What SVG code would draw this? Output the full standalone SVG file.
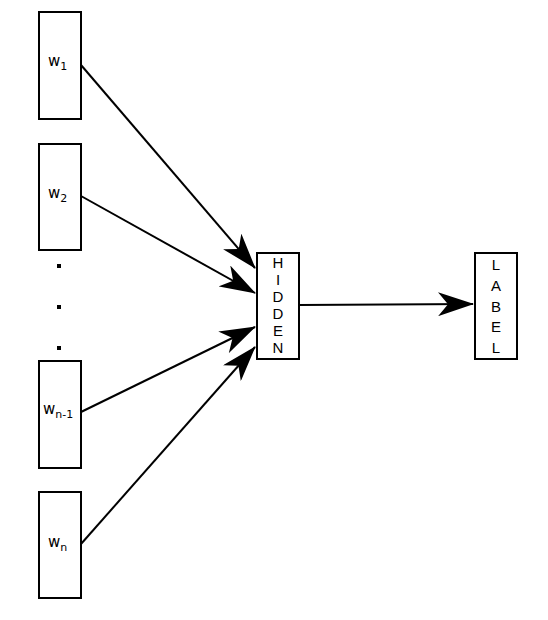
<svg xmlns="http://www.w3.org/2000/svg" width="548" height="620" viewBox="0 0 548 620">
<style>
.box{fill:#fff;stroke:#000;stroke-width:2}
.w{font-family:"DejaVu Sans",Verdana,sans-serif;font-size:15px;fill:#000}
.sub{font-size:11px}
.v{font-family:"Liberation Sans",Arial,sans-serif;font-size:15px;fill:#000;text-anchor:middle}
.edge{stroke:#000;stroke-width:2;fill:none;marker-end:url(#arr)}
</style>
<defs>
<marker id="arr" markerUnits="userSpaceOnUse" viewBox="0 0 36 24" refX="35" refY="12" markerWidth="36" markerHeight="24" orient="auto">
<path d="M0,0 L36,12 L0,24 L10,12 Z" fill="#000"/>
</marker>
</defs>
<rect width="548" height="620" fill="#fff"/>
<g id="connectors">
<line class="edge" x1="81" y1="65" x2="255" y2="268"/>
<line class="edge" x1="81" y1="196" x2="255" y2="293"/>
<line class="edge" x1="81" y1="412" x2="255" y2="327"/>
<line class="edge" x1="81" y1="544" x2="255" y2="347"/>
<line class="edge" x1="299" y1="305" x2="473" y2="304"/>
</g>
<g id="w1"><rect class="box" x="39" y="12" width="42" height="107"/><text class="w" x="48" y="66">w<tspan class="sub" dy="4">1</tspan></text></g>
<g id="w2"><rect class="box" x="39" y="144" width="42" height="106"/><text class="w" x="48" y="198">w<tspan class="sub" dy="4">2</tspan></text></g>
<g id="dots">
<rect x="57" y="264" width="4" height="4" fill="#000"/>
<rect x="57" y="305" width="4" height="4" fill="#000"/>
<rect x="57" y="346" width="4" height="4" fill="#000"/>
</g>
<g id="wn-1"><rect class="box" x="39" y="361" width="42" height="107"/><text class="w" x="43" y="414">w<tspan class="sub" dy="4">n-1</tspan></text></g>
<g id="wn"><rect class="box" x="39" y="492" width="42" height="106"/><text class="w" x="48" y="547">w<tspan class="sub" dy="4">n</tspan></text></g>
<g id="hidden"><rect class="box" x="257" y="253" width="42" height="106"/>
<text class="v" x="278" y="268">H</text>
<text class="v" x="278" y="285">I</text>
<text class="v" x="278" y="302">D</text>
<text class="v" x="278" y="319">D</text>
<text class="v" x="278" y="336">E</text>
<text class="v" x="278" y="353">N</text>
</g>
<g id="label"><rect class="box" x="475" y="253" width="42" height="106"/>
<text class="v" x="496" y="270">L</text>
<text class="v" x="496" y="291">A</text>
<text class="v" x="496" y="312">B</text>
<text class="v" x="496" y="332">E</text>
<text class="v" x="496" y="353">L</text>
</g>
</svg>
